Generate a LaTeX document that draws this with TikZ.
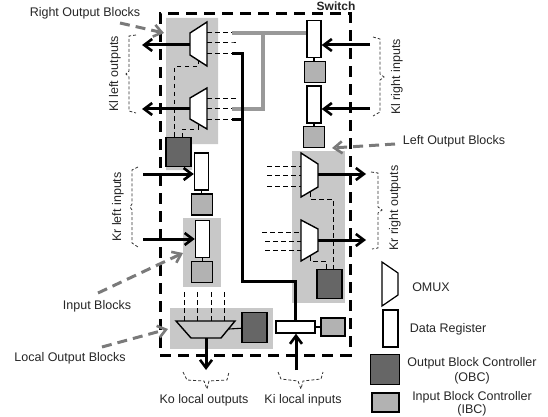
\documentclass[tikz,border=0pt]{standalone}
\usepackage{fontspec}
\setmainfont{Liberation Sans}
\usepackage{xcolor}
\usetikzlibrary{arrows.meta,calc}
\definecolor{panelgray}{HTML}{C8C8C8}
\definecolor{obcgray}{HTML}{666666}
\definecolor{ibcgray}{HTML}{B2B2B2}
\definecolor{wiregray}{HTML}{999999}
\definecolor{callgray}{HTML}{7A7A7A}

\begin{document}
\begin{tikzpicture}[
    x=1pt, y=-1pt,
    lbl/.style={inner sep=0pt, align=center, font=\fontsize{12.5}{15}\selectfont, text=black!85},
    reg/.style={draw, fill=white, line width=1.4pt, inner sep=0pt, minimum width=14pt, minimum height=37pt},
    ibc/.style={draw, fill=ibcgray, line width=1.4pt, inner sep=0pt, minimum width=20.5pt, minimum height=21pt},
    obc/.style={draw, fill=obcgray, line width=1.4pt, inner sep=0pt, minimum width=25pt, minimum height=29.5pt},
    omux/.style={draw, fill=white, line width=1.4pt},
    sig/.style={-{Straight Barb[length=8pt,width=12pt,line width=2.6pt]}, line width=3pt},
    ctl/.style={dashed, dash pattern=on 4.5pt off 3.5pt, line width=1pt},
    wire/.style={line width=3pt},
    gwire/.style={wiregray, line width=3.2pt},
    tie/.style={line width=1.1pt},
    call/.style={callgray, line width=3pt, dash pattern=on 10pt off 6pt, -{Straight Barb[length=8pt,width=12pt,line width=2.6pt]}},
    brc/.style={dashed, dash pattern=on 3pt off 2pt, line width=0.8pt, black!80}
  ]
    \useasboundingbox (0,0) rectangle (548,417);

    %% ---- Grey blocks ----
    \fill[panelgray] (166,18) rectangle (218,144) (166,144) rectangle (192,170);
    \fill[panelgray] (183,218) rectangle (220.5,287);
    \fill[panelgray] (292,151) rectangle (345,303);
    \fill[panelgray] (170,308) rectangle (273,349);

    %% ---- Switch border ----
    \node[draw, dashed, dash pattern=on 11pt off 7pt, line width=3pt, inner sep=0pt, minimum width=190pt, minimum height=341pt] (sw) at (255,184.5) {};
    \node[lbl, font=\fontsize{12}{14}\selectfont\bfseries] (swl) at (336,6) {Switch};

    %% ---- Wires between the blocks ----
    \coordinate (a1) at (232,33);
    \coordinate (a2) at (232,43);
    \coordinate (a3) at (232,54);
    \coordinate (b1) at (237,99);
    \coordinate (b2) at (232,109);
    \coordinate (b3) at (232,119);
    \coordinate (gv) at (263,33);
    \coordinate (bk) at (242,281);

    %% ---- Right output blocks ----
    \draw[omux] (190,33) -- (207,22) -- (207,66) -- (190,55) -- cycle;
    \draw[omux] (190,98) -- (207,88) -- (207,129) -- (190,119) -- cycle;
    \coordinate (mr1) at (190,45);
    \coordinate (mr2) at (190,109);
    \coordinate (ol1) at (142,45);
    \coordinate (ol2) at (142,109);
    \node[obc] (c1) at (178.5,152) {};
    \draw[sig] (mr1) -- (ol1);
    \draw[sig] (mr2) -- (ol2);
    \draw[ctl] (207,33) -- (a1);
    \draw[ctl] (207,43) -- (a2) -- ++(5,0);
    \draw[ctl] (207,54) -- (a3);
    \draw[ctl] (207,99) -- (b1);
    \draw[ctl] (207,109) -- (b2);
    \draw[ctl] (207,119) -- (b3);
    \draw[ctl] (198,60) -- (198,67) -- (174,67) -- (174,137.5);
    \draw[ctl] (198,125) -- (198,129) -- (182,129) -- (182,137.5);

    %% ---- Right side registers ----
    \node[reg] (r1) at (314,39) {};
    \node[ibc] (i1) at (315,72) {};
    \node[reg] (r2) at (314,104.5) {};
    \node[ibc] (i2) at (314,137) {};
    \draw[tie] (r1) -- (r1 |- i1.north);
    \draw[tie] (r2) -- (r2 |- i2.north);
    \coordinate (kl1) at (370,45);
    \coordinate (kl2) at (370,109);
    \draw[sig] (kl1) -- (kl1 -| r1.east);
    \draw[sig] (kl2) -- (kl2 -| r2.east);

    %% ---- Left side registers ----
    \node[reg] (r3) at (201.5,171.5) {};
    \node[ibc] (i3) at (202,204.5) {};
    \node[reg] (r4) at (202.5,239) {};
    \node[ibc] (i4) at (202,272) {};
    \draw[tie] (r3) -- (r3 |- i3.north);
    \draw[tie] (r4) -- (r4 |- i4.north);
    \coordinate (kr1) at (143,174);
    \coordinate (kr2) at (143,239);
    \draw[sig] (kr1) -- (kr1 -| r3.west);
    \draw[sig] (kr2) -- (kr2 -| r4.west);

    %% ---- Left output blocks ----
    \draw[ctl] (267,166) -- (301,166);
    \draw[ctl] (267,175) -- (301,175);
    \draw[ctl] (267,186) -- (301,186);
    \draw[ctl] (262,232) -- (301,232);
    \draw[ctl] (265,241) -- (301,241);
    \draw[ctl] (265,250) -- (301,250);
    \node[obc] (c2) at (329.5,284) {};
    \draw[ctl] (310,192) -- (310,199) -- (333,199) -- (333,269);
    \draw[ctl] (310,256) -- (310,261) -- (326,261) -- (326,269);
    \draw[omux] (301,153) -- (318,164) -- (318,187) -- (301,197) -- cycle;
    \draw[omux] (301,220) -- (318,229) -- (318,251) -- (301,261) -- cycle;
    \coordinate (ml1) at (318,174);
    \coordinate (ml2) at (318,240);
    \coordinate (or1) at (366,174);
    \coordinate (or2) at (366,240);
    \draw[sig] (ml1) -- (or1);
    \draw[sig] (ml2) -- (or2);

    %% ---- Local blocks ----
    \foreach \x in {184.5,197.5,211,224}
      \draw[ctl] (\x,292) -- (\x,321);
    \draw[omux, fill=panelgray] (176,321) -- (235,321) -- (221,338) -- (191,338) -- cycle;
    \node[obc] (c3) at (254.5,327.5) {};
    \coordinate (mt) at (229,329);
    \draw[tie] (mt) -- (c3);
    \coordinate (ko) at (206,370);
    \draw[sig] (206,338) -- (ko);
    \node[reg, minimum width=39pt, minimum height=12pt] (r5) at (295.5,327) {};
    \node[ibc, minimum width=24pt, minimum height=18pt] (i5) at (333,327) {};
    \draw[tie] (r5) -- (i5);
    \coordinate (ki) at (296,370);
    \draw[sig] (ki) -- (r5.south -| ki);

    %% ---- Wires on top ----
    \draw[gwire] (a1) -- (gv) -- (gv -| r1.west);
    \draw[gwire] (gv) |- (b2);
    \draw[wire] (a3) -- (bk |- a3) -- (bk) -- (bk -| r5.north) -- (r5.north);
    \draw[wire] (b3) -- (bk |- b3);

    %% ---- Callouts ----
    \node[lbl] (t1) at (85,13) {Right Output Blocks};
    \node[lbl] (t2) at (454,141) {Left Output Blocks};
    \node[lbl] (t3) at (97,306) {Input Blocks};
    \node[lbl] (t4) at (70,358) {Local Output Blocks};
    \coordinate (s1) at (120,23);
    \coordinate (e1) at (164,33);
    \coordinate (s2) at (395,144);
    \coordinate (e2) at (332,148);
    \coordinate (s3) at (98,293);
    \coordinate (e3) at (183,253);
    \coordinate (s4) at (102,347);
    \coordinate (e4) at (168,329);
    \draw[call] (s1) -- (e1);
    \draw[call] (s2) -- (e2);
    \draw[call] (s3) -- (e3);
    \draw[call] (s4) -- (e4);

    %% ---- Bundle marks and their labels ----
    \draw[brc] (136,35) -- (129,36) -- (129,71) -- (126,74) -- (129,77) -- (129,111) -- (136,113);
    \draw[brc] (138,167) -- (132,170) -- (132,204) -- (130,207) -- (132,210) -- (132,243) -- (138,247);
    \draw[brc] (373,37) -- (380,39) -- (380,74) -- (384,77) -- (380,80) -- (380,112) -- (373,116);
    \draw[brc] (371,172) -- (378,173) -- (378,207) -- (382,210) -- (378,213) -- (378,248) -- (372,249);
    \draw[brc] (183,372) -- (187,380) -- (204,381) -- (207,389) -- (209,381) -- (227,380) -- (229,372);
    \draw[brc] (278,372) -- (281,379) -- (298,381) -- (301,389) -- (303,381) -- (321,379) -- (323,372);
    \node[lbl, rotate=90] (n1) at (115,74) {Kl left outputs};
    \node[lbl, rotate=90] (n2) at (118,207) {Kr left inputs};
    \node[lbl, rotate=90] (n3) at (397,77) {Kl right inputs};
    \node[lbl, rotate=90] (n4) at (395,208) {Kr right outputs};
    \node[lbl] (n5) at (204,400) {Ko local outputs};
    \node[lbl] (n6) at (303,400) {Ki local inputs};

    %% ---- Legend ----
    \draw[omux, line width=1.2pt] (382,262) -- (398,273) -- (398,295) -- (382,306) -- cycle;
    \node[reg, minimum width=15pt] (lg2) at (390.5,328.5) {};
    \node[obc, minimum width=29pt] (lg3) at (385,369.5) {};
    \node[ibc, minimum width=27pt, minimum height=19pt] (lg4) at (385.5,402.5) {};
    \node[lbl] (lt1) at (431,287) {OMUX};
    \node[lbl] (lt2) at (448,329) {Data Register};
    \node[lbl] (lt3) at (472,370.5) {Output Block Controller\\(OBC)};
    \node[lbl, font=\fontsize{12.5}{13}\selectfont] (lt4) at (472,404) {Input Block Controller\\(IBC)};
  \end{tikzpicture}
\end{document}
